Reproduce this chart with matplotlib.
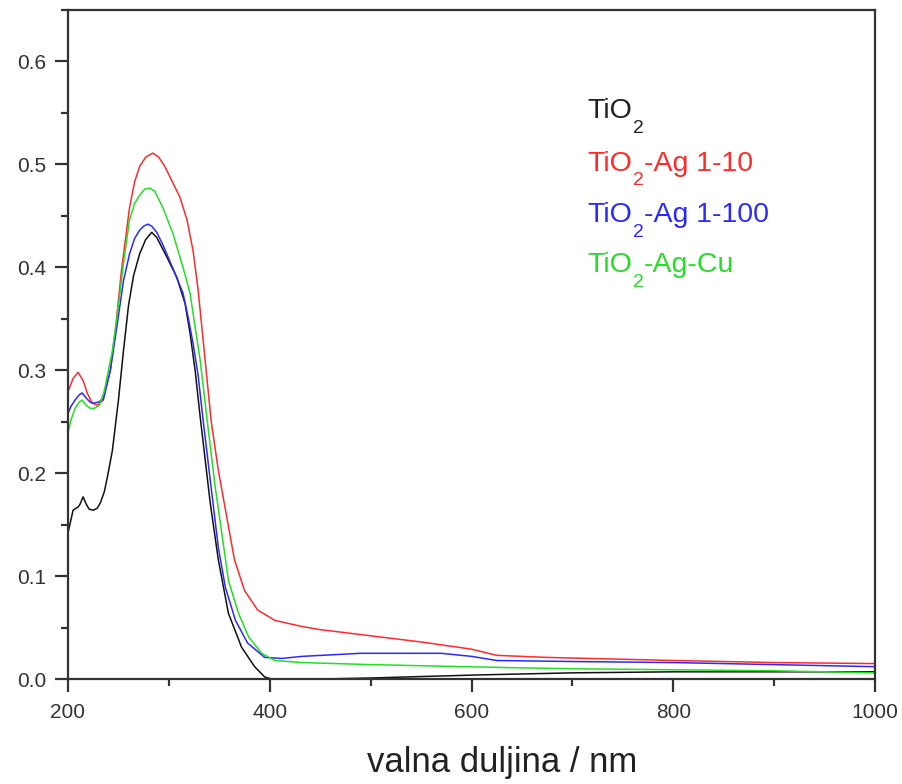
import matplotlib
matplotlib.use("Agg")
import matplotlib.pyplot as plt
from matplotlib.ticker import MultipleLocator, FormatStrFormatter

plt.rcParams['font.family'] = ['Liberation Sans', 'DejaVu Sans']

# Data (wavelength nm, absorbance)
nm_tio2 = [200, 203, 205, 208, 210, 212, 215, 218, 221, 225, 229, 232, 236, 239,
           244, 250, 255, 260, 265, 271, 277, 283, 288, 298, 308, 316, 321, 326,
           331, 341, 349, 359, 372, 385, 395, 402, 450, 500, 608, 700, 800, 900,
           1000]
abs_tio2 = [0.142, 0.155, 0.164, 0.166, 0.167, 0.170, 0.177, 0.170, 0.165, 0.164,
            0.166, 0.171, 0.182, 0.196, 0.222, 0.271, 0.319, 0.363, 0.392, 0.413,
            0.427, 0.434, 0.429, 0.410, 0.390, 0.365, 0.336, 0.300, 0.255, 0.171,
            0.116, 0.064, 0.031, 0.012, 0.002, 0.000, 0.000, 0.001, 0.004, 0.006,
            0.007, 0.007, 0.007]

nm_ag10 = [200, 205, 210, 215, 219, 224, 229, 235, 242, 247, 253, 261, 266, 271,
           277, 284, 290, 296, 303, 311, 318, 324, 329, 334, 342, 349, 358, 365,
           375, 388, 405, 432, 450, 500, 550, 600, 625, 675, 800, 900, 1000]
abs_ag10 = [0.279, 0.292, 0.298, 0.290, 0.278, 0.268, 0.266, 0.271, 0.300, 0.339,
            0.397, 0.458, 0.483, 0.498, 0.507, 0.511, 0.507, 0.498, 0.484, 0.468,
            0.446, 0.416, 0.378, 0.329, 0.250, 0.203, 0.154, 0.116, 0.086, 0.067,
            0.057, 0.051, 0.048, 0.042, 0.036, 0.029, 0.023, 0.021, 0.018, 0.016,
            0.015]

nm_ag100 = [200, 203, 207, 211, 214, 218, 222, 225, 230, 235, 242, 249, 255, 261,
            266, 271, 275, 279, 283, 288, 294, 304, 314, 319, 324, 329, 334, 343,
            349, 356, 366, 378, 395, 412, 432, 490, 570, 600, 625, 700, 800, 900,
            1000]
abs_ag100 = [0.258, 0.265, 0.271, 0.276, 0.278, 0.273, 0.269, 0.268, 0.269, 0.272,
             0.300, 0.346, 0.387, 0.413, 0.428, 0.436, 0.440, 0.442, 0.440, 0.434,
             0.422, 0.399, 0.375, 0.352, 0.326, 0.295, 0.251, 0.177, 0.128, 0.089,
             0.057, 0.035, 0.021, 0.020, 0.022, 0.025, 0.025, 0.022, 0.018, 0.017,
             0.016, 0.014, 0.012]

nm_agcu = [200, 203, 207, 211, 214, 218, 222, 226, 231, 236, 244, 249, 255, 261,
           266, 271, 276, 281, 286, 294, 304, 314, 321, 326, 331, 338, 346, 353,
           359, 369, 379, 392, 405, 432, 500, 592, 641, 700, 800, 900, 1000]
abs_agcu = [0.239, 0.252, 0.263, 0.269, 0.271, 0.266, 0.263, 0.263, 0.266, 0.280,
            0.319, 0.355, 0.404, 0.446, 0.462, 0.470, 0.476, 0.477, 0.474, 0.458,
            0.433, 0.400, 0.375, 0.342, 0.310, 0.251, 0.186, 0.138, 0.096, 0.064,
            0.041, 0.025, 0.018, 0.016, 0.014, 0.012, 0.011, 0.010, 0.009, 0.008,
            0.006]

# legend pieces: formula "TiO" + subscript "2" + rest of the name
label_rest = ['', '-Ag 1-10', '-Ag 1-100', '-Ag-Cu']
colors = ['#111111', '#ff2a2a', '#2a2aff', '#22e022']
text_colors = ['#222222', '#ff2a2a', '#2a2aff', '#22e022']
label_y = [0.545, 0.494, 0.444, 0.395]

series = [(nm_tio2, abs_tio2), (nm_ag10, abs_ag10),
          (nm_ag100, abs_ag100), (nm_agcu, abs_agcu)]

fig = plt.figure(figsize=(9.03, 7.84), dpi=100)
ax = fig.add_axes([0.0753, 0.1339, 0.8937, 0.8533])

for (x, y), c in zip(series, colors):
    ax.plot(x, y, color=c, lw=1.1, solid_joinstyle='round')

ax.set_xlim(200, 1000)
ax.set_ylim(0, 0.65)
ax.xaxis.set_major_locator(MultipleLocator(200))
ax.xaxis.set_minor_locator(MultipleLocator(100))
ax.yaxis.set_major_locator(MultipleLocator(0.1))
ax.yaxis.set_minor_locator(MultipleLocator(0.05))
ax.yaxis.set_major_formatter(FormatStrFormatter('%.1f'))

tc = '#333333'
for s in ax.spines.values():
    s.set_linewidth(1.6)
    s.set_color(tc)
ax.tick_params(which='major', direction='out', length=9.5, width=1.6,
               color=tc, labelcolor=tc, labelsize=15)
ax.tick_params(axis='y', which='major', pad=6)
ax.tick_params(axis='x', which='major', pad=8)
ax.tick_params(which='minor', direction='out', length=5, width=1.6, color=tc)

ax.set_xlabel('valna duljina / nm', fontsize=25, color='#222222')
ax.xaxis.set_label_coords(0.538, -0.100)

# legend as coloured text, subscript dropped well below the baseline
fs = 20.5
for rest, c, yy in zip(label_rest, text_colors, label_y):
    t1 = ax.text(0.643, yy, 'TiO', color=c, fontsize=fs,
                 transform=ax.get_yaxis_transform(), va='baseline')
    t2 = ax.annotate('2', xy=(1.0, 0.0), xycoords=t1, color=c,
                     fontsize=fs * 0.68, ha='left', va='center',
                     xytext=(1, -3), textcoords='offset points')
    if rest:
        ax.annotate(rest, xy=(1.0, 0.0), xycoords=(t2, t1), color=c,
                    fontsize=fs, ha='left', va='bottom')

fig.savefig('out.png', dpi=100)
